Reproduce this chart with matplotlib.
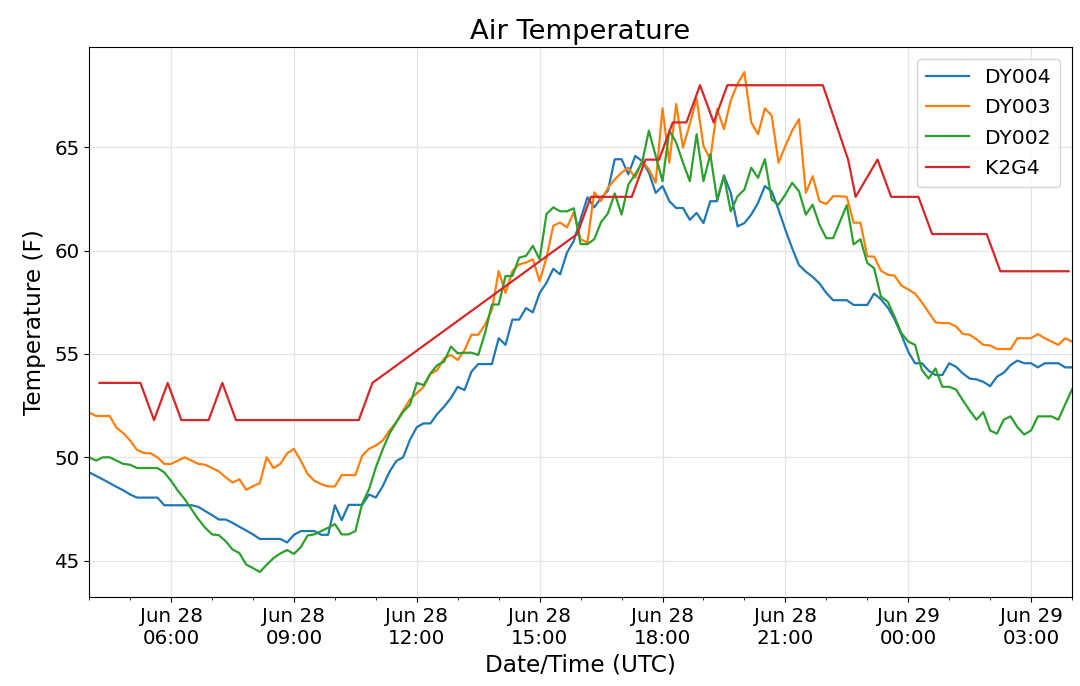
import matplotlib
matplotlib.use("Agg")
import matplotlib.pyplot as plt
import matplotlib.dates as mdates
import pandas as pd

# ---- data ----
dy_start = "2019-06-28 04:00"
dy_count = 145  # 10-minute samples

dy004 = [49.27, 49.1, 48.93, 48.75, 48.57, 48.4, 48.2, 48.05, 48.05, 48.05,
         48.05, 47.68, 47.68, 47.68, 47.68, 47.68, 47.6, 47.4, 47.2, 46.99,
         46.99, 46.83, 46.64, 46.46, 46.27, 46.05, 46.05, 46.05, 46.05, 45.88,
         46.25, 46.43, 46.43, 46.43, 46.25, 46.25, 47.68, 46.96, 47.7, 47.7,
         47.7, 48.2, 48.05, 48.6, 49.3, 49.82, 50.0, 50.85, 51.46, 51.64,
         51.64, 52.1, 52.45, 52.87, 53.41, 53.25, 54.14, 54.51, 54.51, 54.51,
         55.76, 55.44, 56.66, 56.66, 57.22, 57.01, 57.95, 58.44, 59.12, 58.85,
         59.9, 60.47, 61.53, 62.58, 62.09, 62.55, 62.9, 64.42, 64.42, 63.69,
         64.58, 64.33, 63.77, 62.79, 63.12, 62.39, 62.06, 62.06, 61.49, 61.82,
         61.33, 62.39, 62.39, 63.64, 62.79, 61.17, 61.33, 61.74, 62.31, 63.12,
         62.87, 61.98, 61.01, 60.11, 59.3, 58.98, 58.73, 58.41, 57.95, 57.6,
         57.6, 57.6, 57.37, 57.37, 57.37, 57.92, 57.65, 57.25, 56.68, 55.93,
         55.11, 54.55, 54.55, 54.19, 53.98, 53.98, 54.55, 54.38, 54.06, 53.81,
         53.77, 53.65, 53.44, 53.9, 54.09, 54.46, 54.68, 54.55, 54.55, 54.35,
         54.55, 54.55, 54.55, 54.35, 54.35]

dy003 = [52.16, 52.0, 52.0, 52.0, 51.43, 51.17, 50.81, 50.36, 50.21, 50.19,
         50.0, 49.68, 49.68, 49.84, 50.0, 49.84, 49.68, 49.64, 49.48, 49.32,
         49.03, 48.78, 48.94, 48.43, 48.6, 48.75, 50.0, 49.48, 49.68, 50.19,
         50.41, 49.84, 49.19, 48.86, 48.7, 48.59, 48.59, 49.14, 49.14, 49.14,
         50.08, 50.41, 50.57, 50.81, 51.3, 51.7, 52.27, 52.8, 53.1, 53.41,
         54.03, 54.22, 54.79, 54.95, 54.71, 55.19, 55.93, 55.93, 56.41, 57.14,
         59.01, 57.95, 59.01, 59.33, 59.42, 59.58, 58.52, 59.66, 61.2, 61.36,
         61.12, 61.85, 60.55, 60.39, 62.82, 62.4, 63.04, 63.44, 63.77, 64.01,
         63.52, 64.33, 63.93, 63.28, 66.88, 64.25, 67.09, 64.98, 66.12, 67.34,
         65.06, 64.42, 66.85, 65.88, 67.26, 68.07, 68.64, 66.2, 65.63, 66.88,
         66.53, 64.25, 65.06, 65.8, 66.36, 62.79, 63.6, 62.39, 62.25, 62.63,
         62.63, 62.6, 61.35, 61.35, 59.72, 59.71, 59.03, 58.83, 58.79, 58.31,
         58.12, 57.92, 57.5, 57.01, 56.53, 56.49, 56.49, 56.33, 55.97, 55.93,
         55.71, 55.44, 55.41, 55.24, 55.24, 55.24, 55.76, 55.76, 55.76, 55.96,
         55.76, 55.6, 55.44, 55.76, 55.6]

dy002 = [50.0, 49.84, 50.0, 50.0, 49.84, 49.68, 49.64, 49.48, 49.48, 49.48,
         49.48, 49.27, 48.86, 48.38, 47.97, 47.48, 47.0, 46.59, 46.27, 46.23,
         45.94, 45.54, 45.37, 44.81, 44.64, 44.45, 44.8, 45.12, 45.35, 45.51,
         45.33, 45.65, 46.22, 46.27, 46.43, 46.59, 46.77, 46.27, 46.27, 46.43,
         47.76, 48.46, 49.51, 50.38, 51.15, 51.7, 52.2, 52.55, 53.6, 53.49,
         54.06, 54.46, 54.63, 55.36, 55.03, 55.06, 55.06, 54.95, 56.01, 57.39,
         57.39, 58.77, 58.77, 59.66, 59.74, 60.23, 59.58, 61.77, 62.09, 61.9,
         61.9, 62.05, 60.31, 60.31, 60.55, 61.38, 61.8, 62.77, 61.74, 63.2,
         63.69, 64.25, 65.8, 64.58, 63.36, 65.8, 65.23, 64.25, 63.36, 65.63,
         63.36, 64.66, 62.47, 63.6, 61.9, 62.63, 62.95, 64.01, 63.52, 64.42,
         62.47, 62.22, 62.71, 63.28, 62.87, 61.74, 62.22, 61.25, 60.6, 60.6,
         61.4, 62.2, 60.3, 60.55, 59.4, 59.15, 57.78, 57.53, 56.8, 56.01,
         55.6, 55.44, 54.22, 53.81, 54.3, 53.41, 53.41, 53.28, 52.76, 52.27,
         51.82, 52.19, 51.3, 51.14, 51.82, 51.98, 51.46, 51.1, 51.3, 51.98,
         51.98, 51.98, 51.82, 52.56, 53.28]

k2g4_times = ["2019-06-28 04:15", "2019-06-28 04:35", "2019-06-28 04:55",
              "2019-06-28 05:15", "2019-06-28 05:35", "2019-06-28 05:55",
              "2019-06-28 06:15", "2019-06-28 06:35", "2019-06-28 06:55",
              "2019-06-28 07:15", "2019-06-28 07:35", "2019-06-28 07:55",
              "2019-06-28 08:15", "2019-06-28 08:35", "2019-06-28 08:55",
              "2019-06-28 09:15", "2019-06-28 09:35", "2019-06-28 09:55",
              "2019-06-28 10:15", "2019-06-28 10:35", "2019-06-28 10:55",
              "2019-06-28 15:55", "2019-06-28 16:15", "2019-06-28 16:35",
              "2019-06-28 16:55", "2019-06-28 17:15", "2019-06-28 17:35",
              "2019-06-28 17:55", "2019-06-28 18:15", "2019-06-28 18:35",
              "2019-06-28 18:55", "2019-06-28 19:15", "2019-06-28 19:35",
              "2019-06-28 19:55", "2019-06-28 20:15", "2019-06-28 20:35",
              "2019-06-28 20:55", "2019-06-28 21:15", "2019-06-28 21:35",
              "2019-06-28 21:55", "2019-06-28 22:32", "2019-06-28 22:43",
              "2019-06-28 23:15", "2019-06-28 23:35", "2019-06-28 23:55",
              "2019-06-29 00:15", "2019-06-29 00:35", "2019-06-29 00:55",
              "2019-06-29 01:15", "2019-06-29 01:35", "2019-06-29 01:55",
              "2019-06-29 02:15", "2019-06-29 02:35", "2019-06-29 02:55",
              "2019-06-29 03:15", "2019-06-29 03:35", "2019-06-29 03:55"]
k2g4 = [53.6, 53.6, 53.6, 53.6, 51.8, 53.6, 51.8, 51.8, 51.8, 53.6, 51.8,
        51.8, 51.8, 51.8, 51.8, 51.8, 51.8, 51.8, 51.8, 51.8, 53.6,
        60.8, 62.6, 62.6, 62.6, 62.6, 64.4, 64.4, 66.2, 66.2, 68.0, 66.2,
        68.0, 68.0, 68.0, 68.0, 68.0, 68.0, 68.0, 68.0, 64.4, 62.6, 64.4,
        62.6, 62.6, 62.6, 60.8, 60.8, 60.8, 60.8, 60.8, 59.0, 59.0, 59.0,
        59.0, 59.0, 59.0]

series_names = ["DY004", "DY003", "DY002", "K2G4"]
x_start = "2019-06-28 04:00"
x_end = "2019-06-29 04:00"

# ---- plot ----
dy_times = pd.date_range(dy_start, periods=dy_count, freq="10min")
red_times = pd.to_datetime(k2g4_times)

fig = plt.figure(figsize=(10.8, 6.86), dpi=100)
ax = fig.add_axes([0.0826, 0.1297, 0.9100, 0.8018])

lw = 1.6
ax.plot(dy_times, dy004, color="#1f77b4", lw=lw, label=series_names[0])
ax.plot(dy_times, dy003, color="#ff7f0e", lw=lw, label=series_names[1])
ax.plot(dy_times, dy002, color="#2ca02c", lw=lw, label=series_names[2])
ax.plot(red_times, k2g4, color="#d62728", lw=lw, label=series_names[3])

ax.set_xlim(pd.Timestamp(x_start), pd.Timestamp(x_end))
ax.xaxis.set_major_locator(mdates.HourLocator(byhour=range(0, 24, 3)))
ax.xaxis.set_minor_locator(mdates.HourLocator())
ax.xaxis.set_major_formatter(mdates.DateFormatter("%b %d\n%H:%M"))
ax.set_yticks([45, 50, 55, 60, 65])

ax.grid(True, which="major", color="#e3e3e3", linewidth=0.9)
ax.set_axisbelow(True)

ax.tick_params(axis="both", which="major", labelsize=14.3)
for lab in ax.get_xticklabels():
    lab.set_horizontalalignment("center")

ax.set_title("Air Temperature", fontsize=19.7)
ax.set_xlabel("Date/Time (UTC)", fontsize=16.7)
ax.set_ylabel("Temperature (F)", fontsize=16.7, labelpad=6)

ax.legend(loc="upper right", fontsize=14.6, framealpha=0.8,
          labelspacing=0.55, handlelength=2.1, borderpad=0.45,
          borderaxespad=0.6)

fig.savefig("out.png", dpi=100)
